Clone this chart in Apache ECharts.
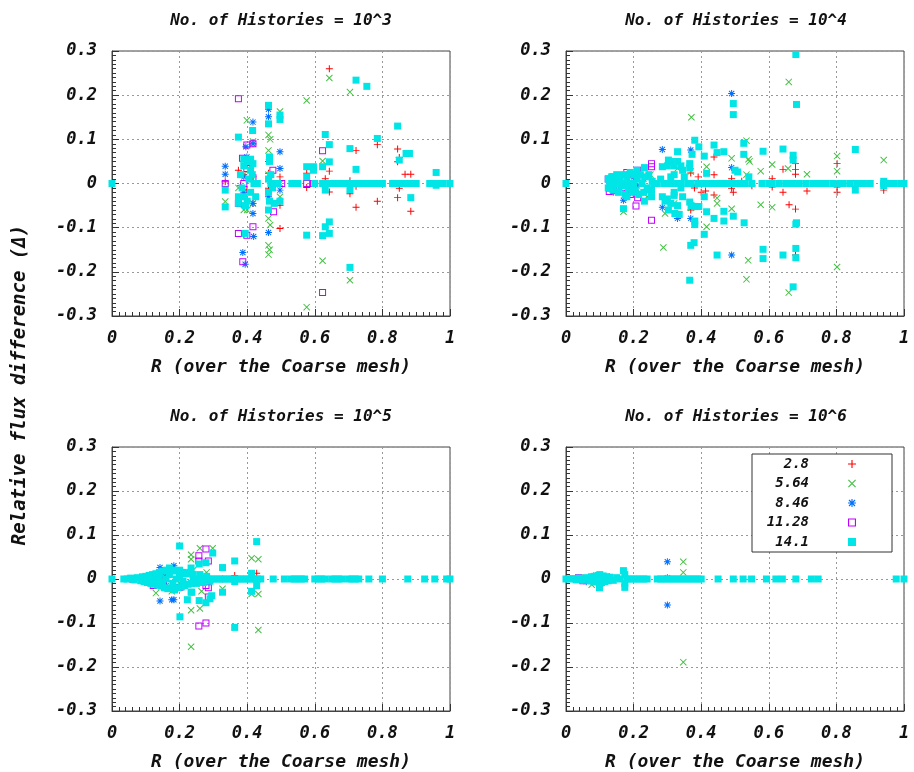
<!DOCTYPE html>
<html>
<head>
<meta charset="utf-8">
<script src="https://cdn.jsdelivr.net/npm/echarts@6/dist/echarts.min.js"></script>
<style>html,body{margin:0;padding:0;background:#fff}#c{width:914px;height:772px}</style>
</head>
<body>
<div id="c"></div>
<script>
// ---- labels ----
const seriesNames = ['2.8', '5.64', '8.46', '11.28', '14.1'];
const panelTitles = ['No. of Histories = 10^3', 'No. of Histories = 10^4', 'No. of Histories = 10^5', 'No. of Histories = 10^6'];
const xTitle = 'R (over the Coarse mesh)';
const yTitle = 'Relative flux difference (\u0394)';

// ---- Panel 1 (10^3) ----
const p1Red = [[0.643,0.26],[0.722,0.075],[0.722,-0.006],[0.722,-0.054],[0.785,0.088],[0.785,-0.04],[0.845,0.078],[0.85,0.059],[0.845,0.049],[0.867,0.021],[0.884,0.021],[0.85,-0.011],[0.845,-0.032],[0.884,-0.063],[0.704,-0.023],[0.704,0.006],[0.643,0.028],[0.643,-0.019],[0.631,0.011],[0.576,0.023],[0.576,-0.009],[0.497,0.015],[0.497,-0.049],[0.497,-0.102],[0.463,0.023],[0.463,-0.011],[0.463,0.005],[0.417,0.015],[0.417,-0.045],[0.399,-0.014],[0.39,0.02],[0.374,0.03],[0.335,0.004],[0.38,-0.005]];
const p1Green = [[0.643,0.239],[0.704,0.207],[0.576,0.188],[0.497,0.163],[0.399,0.143],[0.463,0.11],[0.468,0.1],[0.463,0.075],[0.417,0.095],[0.497,-0.03],[0.463,-0.079],[0.468,-0.094],[0.463,-0.14],[0.466,-0.15],[0.463,-0.161],[0.623,0.051],[0.623,-0.175],[0.704,-0.219],[0.576,-0.28],[0.335,-0.041],[0.39,-0.06],[0.4,-0.06],[0.417,-0.045],[0.39,0.02],[0.417,0.01],[0.463,0.02],[0.497,0.0],[0.374,-0.01]];
const p1Blue = [[0.463,0.168],[0.463,0.151],[0.417,0.139],[0.417,0.09],[0.396,0.083],[0.497,0.072],[0.497,0.034],[0.497,-0.015],[0.335,0.039],[0.335,0.021],[0.463,-0.111],[0.419,-0.12],[0.387,-0.156],[0.394,-0.183],[0.39,0.015],[0.39,-0.02],[0.417,-0.045],[0.417,-0.068],[0.399,0.06],[0.463,0.05],[0.463,-0.03]];
const p1Purple = [[0.374,0.192],[0.399,0.087],[0.417,0.09],[0.386,0.057],[0.399,0.034],[0.476,0.03],[0.478,-0.064],[0.374,-0.045],[0.374,-0.113],[0.399,-0.117],[0.417,-0.098],[0.387,-0.177],[0.623,0.074],[0.623,-0.247],[0.596,0],[0.576,0],[0.502,0],[0.884,0],[0.959,0],[0.417,0.013],[0.39,0.0],[0.335,0.0]];
const p1Cyan = [[0,0],[0.335,-0.015],[0.335,-0.053],[0.374,0.105],[0.374,-0.03],[0.374,-0.045],[0.394,-0.113],[0.39,0.055],[0.4,0.05],[0.41,0.055],[0.417,0.045],[0.39,0.04],[0.416,0.12],[0.463,0.177],[0.463,0.135],[0.497,0.155],[0.497,0.145],[0.466,0.06],[0.466,0.05],[0.463,0.01],[0.47,0.0],[0.463,-0.02],[0.466,-0.04],[0.463,-0.06],[0.48,-0.045],[0.497,-0.04],[0.532,0],[0.576,0.038],[0.576,0.015],[0.576,-0.117],[0.596,0.038],[0.596,0.03],[0.623,0.038],[0.623,-0.118],[0.631,0.111],[0.631,-0.015],[0.643,0.088],[0.643,0.049],[0.643,-0.087],[0.631,-0.098],[0.643,-0.113],[0.704,0.079],[0.704,-0.014],[0.704,-0.19],[0.722,0.234],[0.754,0.22],[0.722,0.032],[0.785,0.102],[0.845,0.13],[0.85,0.053],[0.87,0.068],[0.88,0.068],[0.884,-0.032],[0.959,0.025],[0.959,-0.004],[1,0],[0.55,0],[0.6,0],[0.623,0],[0.64,0],[0.65,0],[0.66,0],[0.67,0],[0.68,0],[0.69,0],[0.704,0],[0.72,0],[0.73,0],[0.74,0],[0.75,0],[0.76,0],[0.77,0],[0.78,0],[0.8,0],[0.83,0],[0.85,0],[0.86,0],[0.87,0],[0.88,0],[0.9,0],[0.94,0],[0.96,0],[0.98,0],[0.38,0.02],[0.385,-0.01],[0.39,-0.03],[0.4,-0.04],[0.405,0.01],[0.41,-0.02],[0.415,0.02],[0.42,0],[0.425,-0.03],[0.43,0],[0.41,0.03],[0.395,-0.05],[0.47,0.02],[0.475,-0.01],[0.48,0],[0.49,0]];

// ---- Panel 2 (10^4) ----
const p2Red = [[0.438,0.06],[0.438,0.02],[0.438,-0.026],[0.49,0.011],[0.49,-0.011],[0.495,-0.02],[0.413,-0.017],[0.391,0.015],[0.369,0.024],[0.369,-0.06],[0.38,-0.01],[0.4,-0.02],[0.61,0.011],[0.61,-0.008],[0.642,0.032],[0.642,-0.02],[0.66,-0.048],[0.679,0.045],[0.679,0.032],[0.679,0.021],[0.679,-0.058],[0.679,-0.162],[0.713,-0.017],[0.802,0.045],[0.802,-0.02],[0.802,-0.008],[0.94,-0.015],[0.55,-0.005],[0.52,0.005]];
const p2Green = [[0.659,0.23],[0.371,0.15],[0.534,0.097],[0.54,0.055],[0.543,0.05],[0.49,0.057],[0.416,0.038],[0.369,0.027],[0.285,0.038],[0.33,0.034],[0.32,-0.045],[0.293,-0.068],[0.288,-0.145],[0.416,-0.098],[0.447,-0.033],[0.447,-0.045],[0.49,-0.057],[0.534,0.02],[0.576,0.028],[0.576,-0.048],[0.61,0.043],[0.61,-0.054],[0.657,0.034],[0.713,0.021],[0.539,-0.174],[0.534,-0.217],[0.659,-0.247],[0.802,0.062],[0.802,0.028],[0.802,-0.189],[0.94,0.053],[0.17,-0.064],[0.2,0.01],[0.22,-0.02],[0.25,0.02],[0.24,-0.03],[0.37,-0.055]];
const p2Blue = [[0.49,0.204],[0.285,0.077],[0.369,0.076],[0.49,0.036],[0.17,-0.038],[0.285,-0.054],[0.33,-0.079],[0.369,-0.079],[0.49,-0.162],[0.15,0.01],[0.16,-0.01],[0.18,0.02],[0.19,-0.02],[0.2,0.015],[0.21,-0.005],[0.23,0.01],[0.14,-0.02]];
const p2Purple = [[0.253,0.038],[0.253,0.045],[0.212,0.03],[0.212,-0.032],[0.207,-0.051],[0.253,-0.083],[0.18,0.025],[0.18,-0.022],[0.125,0.01],[0.13,-0.01],[0.135,0.005],[0.14,-0.015],[0.145,0.008],[0.128,-0.018],[0.138,0.015],[0.376,0],[0.465,0],[0.677,0],[0.856,0],[0.19,-0.025],[0.2,0.02]];
const p2Cyan = [[0,0],[0.125,0.01],[0.125,-0.01],[0.13,0],[0.135,0.015],[0.14,-0.015],[0.145,0.005],[0.15,0.02],[0.155,-0.02],[0.16,0.01],[0.165,-0.005],[0.17,0.02],[0.175,-0.025],[0.18,0.015],[0.185,-0.01],[0.19,0.025],[0.195,-0.02],[0.2,0.02],[0.205,-0.015],[0.21,0.01],[0.215,-0.025],[0.22,0.02],[0.225,0],[0.23,-0.02],[0.235,0.015],[0.24,-0.01],[0.245,0.02],[0.25,-0.015],[0.255,0.005],[0.15,0],[0.17,0],[0.19,0],[0.2,0],[0.18,-0.03],[0.21,0.03],[0.232,0.036],[0.232,-0.04],[0.17,-0.057],[0.253,-0.015],[0.253,-0.03],[0.285,0.038],[0.285,-0.03],[0.293,-0.04],[0.303,0.053],[0.303,-0.06],[0.32,0.04],[0.32,0.02],[0.32,-0.02],[0.32,-0.027],[0.33,0.072],[0.322,-0.068],[0.335,-0.07],[0.35,0.015],[0.27,0.0],[0.28,0.01],[0.3,0.0],[0.31,0.015],[0.33,0.0],[0.34,-0.01],[0.36,0.0],[0.3,0.04],[0.3,-0.035],[0.31,0.05],[0.33,0.05],[0.33,-0.05],[0.34,0.04],[0.31,-0.045],[0.345,0.03],[0.345,-0.03],[0.366,0.045],[0.366,0.035],[0.373,0.066],[0.381,0.098],[0.393,0.083],[0.366,-0.042],[0.37,-0.05],[0.381,-0.052],[0.393,-0.052],[0.381,-0.085],[0.381,-0.093],[0.379,-0.134],[0.369,-0.14],[0.366,-0.219],[0.409,0.062],[0.409,-0.03],[0.416,0.023],[0.416,-0.064],[0.409,-0.115],[0.438,0.087],[0.447,0.07],[0.438,-0.079],[0.467,0.072],[0.467,-0.063],[0.467,-0.085],[0.447,-0.162],[0.495,0.181],[0.495,0.156],[0.5,0.03],[0.508,0.026],[0.495,-0.074],[0.526,0.091],[0.526,0.066],[0.527,-0.089],[0.541,0.015],[0.583,0.073],[0.583,-0.149],[0.583,-0.17],[0.642,0.078],[0.642,-0.162],[0.672,0.064],[0.672,0.053],[0.68,0.292],[0.682,0.179],[0.682,-0.089],[0.68,-0.092],[0.68,-0.147],[0.68,-0.168],[0.672,-0.234],[0.856,0.077],[0.856,-0.015],[0.94,0.005],[0.94,-0.005],[0.26,0],[0.29,0],[0.31,0],[0.34,0],[0.37,0],[0.39,0],[0.4,0],[0.41,0],[0.42,0],[0.43,0],[0.44,0],[0.45,0],[0.46,0],[0.47,0],[0.48,0],[0.49,0],[0.5,0],[0.51,0],[0.52,0],[0.53,0],[0.55,0],[0.58,0],[0.6,0],[0.61,0],[0.63,0],[0.65,0],[0.67,0],[0.69,0],[0.71,0],[0.73,0],[0.75,0],[0.77,0],[0.79,0],[0.81,0],[0.82,0],[0.84,0],[0.86,0],[0.88,0],[0.9,0],[0.94,0],[0.96,0],[0.97,0],[0.99,0],[1,0]];

// ---- Panel 3 (10^5) ----
const p3Red = [[0.428,0.013],[0.363,0.008],[0.278,0.007],[0.327,0],[0.2,0.005],[0.15,-0.003]];
const p3Green = [[0.26,0.07],[0.298,0.07],[0.234,0.055],[0.234,0.045],[0.413,0.047],[0.433,0.045],[0.13,-0.032],[0.177,-0.028],[0.265,-0.028],[0.327,-0.022],[0.413,-0.034],[0.433,-0.034],[0.234,-0.071],[0.26,-0.067],[0.433,-0.116],[0.234,-0.154],[0.24,0.02],[0.2,-0.01],[0.16,0.012],[0.28,0.015]];
const p3Blue = [[0.142,0.026],[0.183,0.03],[0.142,-0.05],[0.177,-0.047],[0.183,-0.047],[0.12,0.008],[0.13,-0.01],[0.15,0.012],[0.16,-0.015],[0.17,0.015],[0.19,-0.02],[0.2,0.015],[0.1,0.003]];
const p3Purple = [[0.278,0.068],[0.257,0.053],[0.257,0.041],[0.285,0.041],[0.285,-0.02],[0.278,-0.015],[0.285,-0.041],[0.201,-0.019],[0.257,-0.107],[0.278,-0.1],[0.122,-0.015],[0.201,0.015],[0.06,0],[0.09,-0.002],[0.1,0.003],[0.11,-0.005],[0.15,0.01],[0.17,-0.012]];
const p3Cyan = [[0,0],[0.035,0],[0.045,0],[0.055,0.002],[0.065,-0.002],[0.075,0.003],[0.085,-0.004],[0.09,0.005],[0.095,-0.006],[0.1,0.006],[0.105,-0.008],[0.11,0.008],[0.115,-0.01],[0.12,0.01],[0.125,-0.012],[0.13,0.012],[0.135,-0.014],[0.14,0.015],[0.145,-0.016],[0.15,0.018],[0.155,-0.02],[0.16,0.02],[0.165,-0.022],[0.17,0.025],[0.175,-0.02],[0.18,0.02],[0.185,-0.025],[0.19,0.018],[0.195,-0.02],[0.2,0.02],[0.205,-0.018],[0.21,0.015],[0.215,-0.015],[0.22,0.012],[0.225,-0.012],[0.23,0.015],[0.235,-0.01],[0.24,0.01],[0.25,-0.01],[0.26,0.01],[0.27,-0.008],[0.28,0.006],[0.29,-0.005],[0.16,0],[0.17,0.01],[0.18,-0.01],[0.19,0],[0.2,0.005],[0.21,-0.005],[0.15,-0.008],[0.14,0.005],[0.13,0],[0.12,0],[0.1,0],[0.11,0],[0.2,0.075],[0.201,-0.086],[0.298,0.059],[0.295,-0.038],[0.29,-0.045],[0.278,-0.054],[0.258,0.034],[0.258,-0.049],[0.234,0.025],[0.234,-0.03],[0.223,-0.047],[0.236,-0.03],[0.278,0.037],[0.327,0.026],[0.327,-0.03],[0.363,0.041],[0.363,-0.11],[0.363,-0.006],[0.413,0.013],[0.413,-0.028],[0.428,0.085],[0.428,-0.015],[0.24,0],[0.25,0],[0.26,0],[0.27,0],[0.28,0],[0.29,0],[0.3,0],[0.31,0],[0.32,0],[0.33,0],[0.34,0],[0.35,0],[0.36,0],[0.37,0],[0.38,0],[0.39,0],[0.4,0],[0.41,0],[0.42,0],[0.43,0],[0.44,0],[0.477,0],[0.51,0],[0.53,0],[0.54,0],[0.55,0],[0.56,0],[0.57,0],[0.6,0],[0.61,0],[0.62,0],[0.63,0],[0.65,0],[0.66,0],[0.67,0],[0.68,0],[0.7,0],[0.71,0],[0.72,0],[0.73,0],[0.76,0],[0.8,0],[0.875,0],[0.925,0],[0.955,0],[0.99,0],[1,0]];

// ---- Panel 4 (10^6) ----
const p4Red = [[0.05,0.002],[0.1,-0.003]];
const p4Green = [[0.347,0.039],[0.347,0.015],[0.347,-0.189],[0.076,-0.013],[0.09,0.008],[0.12,0.006]];
const p4Blue = [[0.3,0.039],[0.3,-0.059],[0.3,0.003],[0.06,-0.006],[0.08,0.005],[0.1,-0.008]];
const p4Purple = [[0.037,0.003],[0.1,-0.01],[0.05,-0.004],[0.08,0.004]];
const p4Cyan = [[0,0],[0.01,0],[0.02,0.001],[0.03,-0.002],[0.04,0.002],[0.05,-0.003],[0.06,0.003],[0.07,-0.004],[0.075,0.005],[0.08,-0.005],[0.085,0.006],[0.09,-0.007],[0.095,0.008],[0.099,-0.02],[0.1,0.01],[0.105,-0.008],[0.11,0.007],[0.115,-0.006],[0.12,0.005],[0.125,-0.004],[0.13,0.004],[0.14,-0.003],[0.15,0.003],[0.16,0],[0.17,0.019],[0.174,-0.019],[0.174,0.01],[0.174,-0.01],[0.18,0],[0.19,0],[0.2,0],[0.21,0],[0.22,0],[0.23,0],[0.24,0],[0.27,0],[0.28,0],[0.29,0],[0.3,0],[0.31,0],[0.32,0],[0.33,0],[0.34,0],[0.35,0],[0.36,0],[0.37,0],[0.38,0],[0.39,0],[0.4,0],[0.45,0],[0.495,0],[0.524,0],[0.549,0],[0.593,0],[0.621,0],[0.64,0],[0.68,0],[0.726,0],[0.746,0],[0.977,0],[1,0]];

const panels = [
  [p1Red, p1Green, p1Blue, p1Purple, p1Cyan],
  [p2Red, p2Green, p2Blue, p2Purple, p2Cyan],
  [p3Red, p3Green, p3Blue, p3Purple, p3Cyan],
  [p4Red, p4Green, p4Blue, p4Purple, p4Cyan]
];

// ---- styling ----
const FONT = 'DejaVu Sans Mono';
const colors = ['#ff0000', '#44c044', '#0070ff', '#c000ff', '#00e5e5'];
const symbols = [
  'path://M-1,-0.14H1V0.14H-1Z M-0.14,-1H0.14V1H-0.14Z',
  'path://M-1,-0.8L-0.8,-1L1,0.8L0.8,1Z M0.8,-1L1,-0.8L-0.8,1L-1,0.8Z',
  'path://M-1,-0.14H1V0.14H-1Z M-0.14,-1H0.14V1H-0.14Z M-0.85,-0.65L-0.65,-0.85L0.85,0.65L0.65,0.85Z M0.65,-0.85L0.85,-0.65L-0.65,0.85L-0.85,0.65Z',
  'path://M-1,-1H1V1H-1Z M-0.72,-0.72V0.72H0.72V-0.72Z',
  'rect'
];
const sizes = [7, 7, 7, 7, 7];

const gridPos = [
  {left: 112, top: 51, width: 338, height: 265},
  {left: 566, top: 51, width: 338, height: 265},
  {left: 112, top: 447, width: 338, height: 266},
  {left: 566, top: 447, width: 338, height: 266}
];
const titlePos = [[276, 8], [731, 8], [276, 404], [731, 404]];

const labelStyle = {fontFamily: FONT, fontWeight: 'bold', fontStyle: 'italic', color: '#111'};
const tickLine = {color: '#333', width: 1};

const option = {
  animation: false,
  backgroundColor: '#fff',
  title: panelTitles.map((t, i) => ({
    text: t, left: titlePos[i][0], top: titlePos[i][1], textAlign: 'center',
    textStyle: Object.assign({fontSize: 16}, labelStyle)
  })),
  grid: gridPos.map(g => Object.assign({show: true, borderColor: '#444', borderWidth: 1, backgroundColor: 'transparent'}, g)),
  xAxis: gridPos.map((g, i) => ({
    type: 'value', gridIndex: i, position: 'bottom', min: 0, max: 1, interval: 0.2,
    name: xTitle, nameLocation: 'middle', nameGap: 42,
    nameTextStyle: Object.assign({fontSize: 18}, labelStyle),
    axisLine: {show: true, onZero: false, lineStyle: {color: '#444', width: 1}},
    axisTick: {show: true, inside: true, length: 7, lineStyle: tickLine},
    minorTick: {show: true, splitNumber: 10, length: 4, lineStyle: tickLine},
    axisLabel: Object.assign({fontSize: 17, margin: 14}, labelStyle),
    splitLine: {show: true, lineStyle: {color: '#999', type: [2, 3], width: 1}},
    z: 3
  })),
  yAxis: gridPos.map((g, i) => ({
    type: 'value', gridIndex: i, position: 'left', min: -0.3, max: 0.3, interval: 0.1,
    axisLine: {show: true, onZero: false, lineStyle: {color: '#444', width: 1}},
    axisTick: {show: true, inside: true, length: 7, lineStyle: tickLine},
    minorTick: {show: true, splitNumber: 10, length: 4, lineStyle: tickLine},
    axisLabel: Object.assign({fontSize: 17, margin: 15}, labelStyle),
    splitLine: {show: true, lineStyle: {color: '#999', type: [2, 3], width: 1}},
    z: 3
  })),
  legend: {
    orient: 'vertical', left: 752, top: 454, align: 'right',
    data: seriesNames,
    itemWidth: 8, itemHeight: 8, itemGap: 5.5,
    padding: [3, 36, 3, 5],
    borderColor: '#333', borderWidth: 1, backgroundColor: '#fff',
    formatter: n => '{a|' + n + '}{s|}',
    textStyle: {
      rich: {
        a: Object.assign({fontSize: 14, width: 52, align: 'right', lineHeight: 16}, labelStyle),
        s: {width: 34, lineHeight: 16}
      }
    }
  },
  graphic: [{
    type: 'text', x: 20, y: 385, rotation: Math.PI / 2,
    style: {text: yTitle, font: 'italic bold 19px "DejaVu Sans Mono"', fill: '#111', align: 'center', verticalAlign: 'middle'}
  }],
  series: []
};

panels.forEach((sets, pi) => {
  sets.forEach((data, si) => {
    option.series.push({
      type: 'scatter', name: seriesNames[si], xAxisIndex: pi, yAxisIndex: pi,
      data: data, symbol: symbols[si], symbolSize: sizes[si],
      itemStyle: {color: colors[si], opacity: 1},
      emphasis: {disabled: true}, z: 2 + si
    });
  });
});

const chart = echarts.init(document.getElementById('c'), null, {renderer: 'canvas'});
chart.setOption(option);
</script>
</body>
</html>
